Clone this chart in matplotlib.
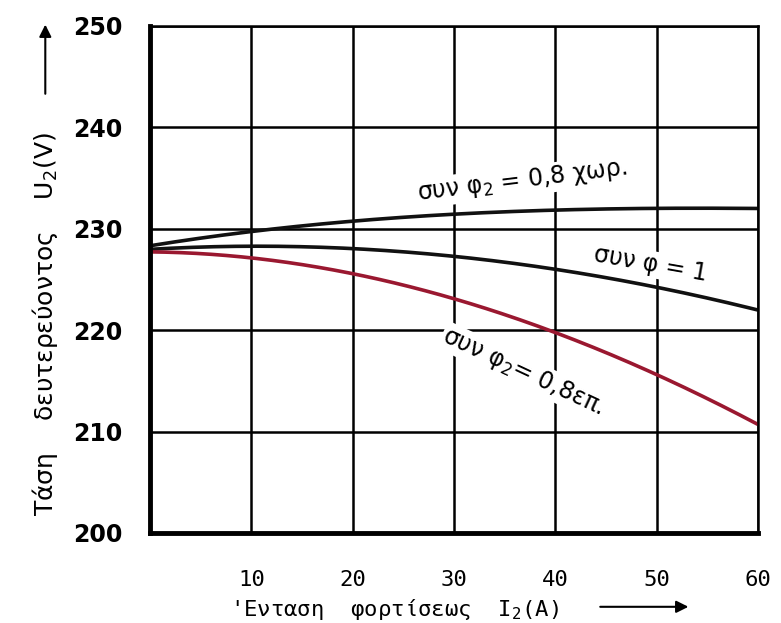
import numpy as np
import matplotlib.pyplot as plt
from matplotlib.patches import FancyArrowPatch

plt.rcParams['mathtext.default'] = 'regular'

# load current I2 (A) and secondary voltage U2 (V)
current = [0, 10, 20, 30, 40, 50, 60]
u_cap = [228.3, 229.8, 230.7, 231.4, 231.9, 232.0, 232.0]   # cos phi2 = 0.8 capacitive
u_res = [228.0, 228.2, 228.1, 227.3, 226.0, 224.2, 222.0]   # cos phi = 1
u_ind = [227.7, 227.2, 225.5, 223.1, 219.8, 215.6, 210.7]   # cos phi2 = 0.8 inductive

x_ticks = [10, 20, 30, 40, 50, 60]
y_ticks = [200, 210, 220, 230, 240, 250]


def smooth(x, y, n=200):
    # cubic fit through the read points, only to draw a smooth pen line
    c = np.polyfit(x, y, 3)
    xs = np.linspace(min(x), max(x), n)
    return xs, np.polyval(c, xs)


fig = plt.figure(figsize=(7.81, 6.23), dpi=100)
ax = fig.add_axes([0.192, 0.1445, 0.7786, 0.8138])

ax.set_xlim(0, 60)
ax.set_ylim(200, 250)
ax.set_xticks(x_ticks)
ax.set_yticks(y_ticks)
ax.grid(True, color='black', linewidth=1.8)
ax.set_axisbelow(True)
ax.tick_params(length=0)
ax.tick_params(axis='y', pad=20, labelsize=17)
ax.tick_params(axis='x', pad=27, labelsize=16)
for lab in ax.get_yticklabels():
    lab.set_fontweight('bold')
for lab in ax.get_xticklabels():
    lab.set_family('DejaVu Sans Mono')

for side, w in [('left', 3.5), ('bottom', 3.5), ('top', 1.8), ('right', 1.8)]:
    ax.spines[side].set_linewidth(w)

for y, col in [(u_cap, '#111111'), (u_res, '#111111'), (u_ind, '#9a1830')]:
    xs, ys = smooth(current, y)
    ax.plot(xs, ys, color=col, linewidth=2.6, solid_capstyle='butt', clip_on=False)

box = dict(facecolor='white', edgecolor='none', pad=1)
ax.text(36.7, 234.7, 'συν φ$_2$ = 0,8 χωρ.', fontsize=17, rotation=7,
        ha='center', va='center', bbox=box)
ax.text(49.4, 226.5, 'συν φ = 1', fontsize=17, rotation=-10,
        ha='center', va='center', bbox=box)
ax.text(36.8, 215.9, 'συν φ$_2$= 0,8επ.', fontsize=17, rotation=-25,
        ha='center', va='center', bbox=box)

fig.text(0.058, 0.48, 'Τάση    δευτερεύοντος    U$_2$(V)', rotation=90,
         fontsize=18, ha='center', va='center')
fig.text(0.505, 0.022, '\'Ενταση  φορτίσεως  I$_2$(A)', fontsize=16,
         family='DejaVu Sans Mono', ha='center', va='center')

arrow = dict(arrowstyle='-|>', color='black', linewidth=1.5, mutation_scale=18)
fig.add_artist(FancyArrowPatch((0.058, 0.845), (0.058, 0.965),
                               transform=fig.transFigure, **arrow))
fig.add_artist(FancyArrowPatch((0.765, 0.026), (0.885, 0.026),
                               transform=fig.transFigure, **arrow))

fig.savefig('out.png', dpi=100)
